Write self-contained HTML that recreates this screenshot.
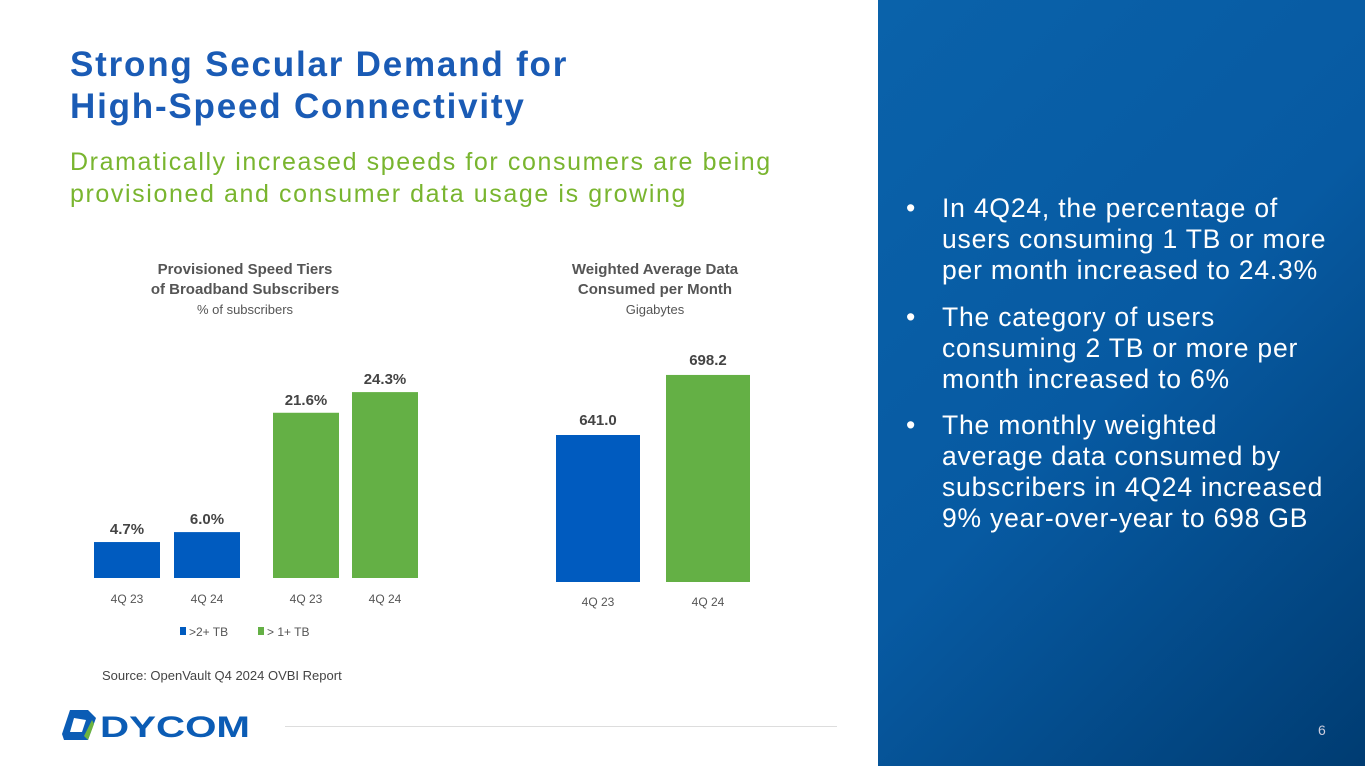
<!DOCTYPE html>
<html><head><meta charset="utf-8"><style>
body{margin:0;width:1365px;height:766px;overflow:hidden;background:#fff;font-family:"Liberation Sans",sans-serif;position:relative}
.abs{position:absolute;white-space:nowrap}
#title{left:70px;top:44px;font-size:35px;font-weight:bold;color:#1a5bb5;line-height:42px;letter-spacing:1.8px}
#sub{left:70px;top:146px;font-size:25px;color:#79b52f;line-height:32px;letter-spacing:1.6px}
#panel{left:878px;top:0;width:487px;height:766px;background:linear-gradient(135deg,#0a62aa 0%,#075aa2 50%,#003c72 100%)}
.bul{color:#fff;font-size:26.5px;line-height:31px;letter-spacing:0.8px}
.ct{font-size:15px;font-weight:bold;color:#555;text-align:center;line-height:20px}
.cs{font-size:13px;color:#555;font-weight:normal}
</style></head><body>
<div id="title" class="abs">Strong Secular Demand for<br>High-Speed Connectivity</div>
<div id="sub" class="abs">Dramatically increased speeds for consumers are being<br>provisioned and consumer data usage is growing</div>
<div class="abs ct" style="left:100px;top:260px;width:290px">Provisioned Speed Tiers<br>of Broadband Subscribers<br><span class="cs">% of subscribers</span></div>
<div class="abs ct" style="left:510px;top:260px;width:290px">Weighted Average Data<br>Consumed per Month<br><span class="cs">Gigabytes</span></div>
<svg id="chart" class="abs" style="left:0;top:0" width="878" height="766"></svg>
<div class="abs" style="left:102px;top:668px;font-size:13px;color:#444">Source: OpenVault Q4 2024 OVBI Report</div>
<div class="abs" style="left:285px;top:726px;width:552px;height:1px;background:#ddd"></div>
<svg class="abs" style="left:60px;top:706px" width="200" height="38">
<path d="M10 4 L28 4 L36 12 L28 34 L4 34 L2 28 Z M14 12 L10 26 L22 26 L26 14 Z" fill="#0b5cb5" fill-rule="evenodd"/>
<path d="M24 30 L32 14 L34 18 L28 34 Z" fill="#6cb33f"/>
<text x="40" y="31" font-family="Liberation Sans" font-weight="bold" font-size="30" fill="#0b5cb5" textLength="150" lengthAdjust="spacingAndGlyphs">DYCOM</text>
</svg>
<div id="panel" class="abs">
<div class="abs bul" style="left:28px;top:193px">•</div>
<div class="abs bul" style="left:64px;top:193px">In 4Q24, the percentage of<br>users consuming 1 TB or more<br>per month increased to 24.3%</div>
<div class="abs bul" style="left:28px;top:302px">•</div>
<div class="abs bul" style="left:64px;top:302px">The category of users<br>consuming 2 TB or more per<br>month increased to 6%</div>
<div class="abs bul" style="left:28px;top:410px">•</div>
<div class="abs bul" style="left:64px;top:410px">The monthly weighted<br>average data consumed by<br>subscribers in 4Q24 increased<br>9% year-over-year to 698 GB</div>
<div class="abs" style="left:440px;top:722px;color:#ccd;font-size:14px">6</div>
</div>
<script>
const leftCats=["4Q 23","4Q 24","4Q 23","4Q 24"];
const leftVals=[4.7,6.0,21.6,24.3];
const leftLabels=["4.7%","6.0%","21.6%","24.3%"];
const leftSeries=[0,0,1,1];
const rightCats=["4Q 23","4Q 24"];
const rightVals=[641.0,698.2];
const rightLabels=["641.0","698.2"];
const legendNames=[">2+ TB","> 1+ TB"];
const colors=["#005bbf","#64b045"];
const svg=document.getElementById('chart');
const NS="http://www.w3.org/2000/svg";
function mk(t,a){const e=document.createElementNS(NS,t);for(const k in a)e.setAttribute(k,a[k]);svg.appendChild(e);return e;}
const lBase=578, lScale=7.65;
const lx=i=>[94,174,273,352][i];
function ly(v){return lBase-v*lScale;}
leftVals.forEach((v,i)=>{
 const r=mk('rect',{x:lx(i),y:ly(v),width:66,height:lBase-ly(v),fill:colors[leftSeries[i]]});
 
 
 const t=mk('text',{x:lx(i)+33,y:ly(v)-8,'text-anchor':'middle','font-size':15,'font-weight':'bold',fill:'#444'});
 t.textContent=leftLabels[i];
 
 
 const c=mk('text',{x:lx(i)+33,y:603,'text-anchor':'middle','font-size':12,fill:'#555'});
 c.textContent=leftCats[i];
 
 
});
const rBase=582, rMin=501, rScale=1.05;
const rx=i=>[556,666][i];
function ry(v){return rBase-(v-rMin)*rScale;}
rightVals.forEach((v,i)=>{
 const r=mk('rect',{x:rx(i),y:ry(v),width:84,height:rBase-ry(v),fill:colors[i]});
 
 
 const t=mk('text',{x:rx(i)+42,y:ry(v)-10,'text-anchor':'middle','font-size':15,'font-weight':'bold',fill:'#444'});
 t.textContent=rightLabels[i];
 
 
 const c=mk('text',{x:rx(i)+42,y:606,'text-anchor':'middle','font-size':12,fill:'#555'});
 c.textContent=rightCats[i];
 
 
});
legendNames.forEach((n,i)=>{
 const x=[180,258][i];
 const s=mk('rect',{x:x,y:627,width:6,height:8,fill:colors[i]});
 
 
 const t=mk('text',{x:x+9,y:636,'font-size':12,fill:'#555'});
 t.textContent=n;
 
 
});
</script>
</body></html>
